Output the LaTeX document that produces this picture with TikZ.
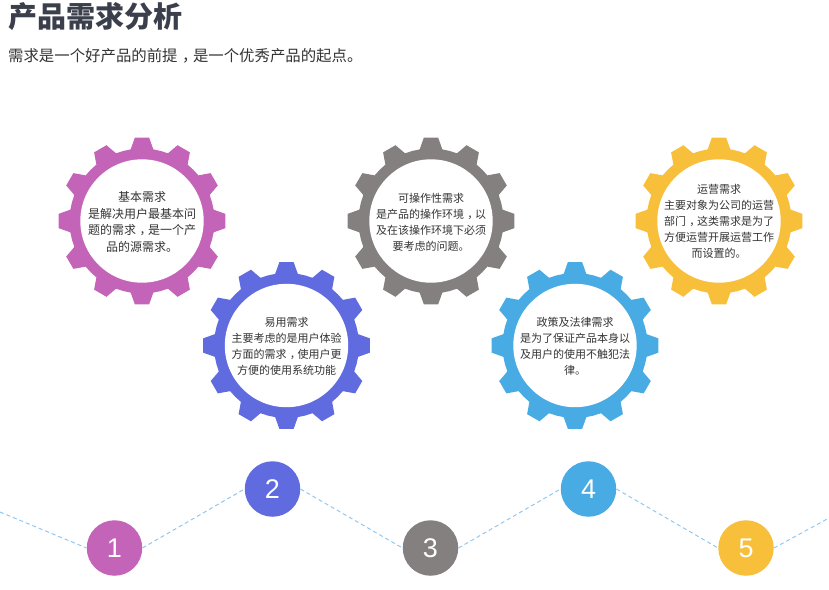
\documentclass[tikz,border=0pt]{standalone}
\usepackage{fontspec}
\setmainfont{Noto Sans CJK SC}
\newfontfamily\numfont{Liberation Sans}
\definecolor{cpurple}{HTML}{C464B8}
\definecolor{cblue}{HTML}{606BE0}
\definecolor{cgray}{HTML}{848080}
\definecolor{csky}{HTML}{48ABE3}
\definecolor{cyellow}{HTML}{F8BF3B}
\definecolor{cink}{HTML}{333333}
\definecolor{ctitle}{HTML}{3A3F4B}
\definecolor{cdash}{HTML}{8EC8F5}
\tikzset{
  geartext/.style={text=cink,align=center,inner sep=0pt,font=\fontsize{11}{16}\selectfont},
  geartextbig/.style={geartext,font=\fontsize{12}{16.4}\selectfont},
  numdot/.style={circle,minimum size=55.5pt,inner sep=0pt,text=white,font=\numfont\fontsize{27}{27}\selectfont},
  link/.style={cdash,dash pattern=on 4pt off 3pt,line width=1pt}
}
\newcommand{\zc}{\hbox to 1em{\hskip.3em ，\hss}}
\newcommand{\gearshape}[3]{%
  \begin{scope}[shift={(#1,#2)}]
    \fill[#3] (-9:72.5)
      \foreach \a in {0,30,...,330} {
        -- ({\a-9}:72.5) -- ({\a-4.9}:83.7) -- ({\a+4.9}:83.7) -- ({\a+9}:72.5) -- ({\a+15}:72.5)
      } -- cycle;
    \fill[white] (0,0) circle (61.7);
  \end{scope}}
\begin{document}
\begin{tikzpicture}[x=1pt,y=-1pt]
\useasboundingbox (0,0) rectangle (829,589);
\gearshape{142}{221}{cpurple}
\gearshape{431}{221}{cgray}
\gearshape{719}{221}{cyellow}
\gearshape{286.5}{345.5}{cblue}
\gearshape{575}{345.5}{csky}
\node[anchor=west,inner sep=0pt,text=ctitle,font=\fontsize{29}{29}\selectfont\bfseries] (title) at (8,17) {产品需求分析};
\node[anchor=west,inner sep=0pt,text=cink,font=\fontsize{15.4}{15.4}\selectfont] (sub) at (8,56) {需求是一个好产品的前提\zc 是一个优秀产品的起点。};
\node[geartextbig] (t1) at (142,222) {基本需求\\是解决用户最基本问\\题的需求\zc 是一个产\\品的源需求。};
\node[geartext] (t2) at (286.5,346) {易用需求\\主要考虑的是用户体验\\方面的需求\zc 使用户更\\方便的使用系统功能};
\node[geartext] (t3) at (431,222) {可操作性需求\\是产品的操作环境\zc 以\\及在该操作环境下必须\\要考虑的问题。};
\node[geartext] (t4) at (575,346) {政策及法律需求\\是为了保证产品本身以\\及用户的使用不触犯法\\律。};
\node[geartext] (t5) at (719,221) {运营需求\\主要对象为公司的运营\\部门\zc 这类需求是为了\\方便运营开展运营工作\\而设置的。};
\node[numdot,fill=cpurple] (n1) at (114.5,548) {1};
\node[numdot,fill=cblue] (n2) at (272.5,489) {2};
\node[numdot,fill=cgray] (n3) at (430.5,548) {3};
\node[numdot,fill=csky] (n4) at (588.5,489) {4};
\node[numdot,fill=cyellow] (n5) at (746,548) {5};
\coordinate (l0) at (0,512);
\coordinate (r0) at (829,518);
\draw[link] (l0) -- (n1.west);
\draw[link] (n1.east) -- (n2.west);
\draw[link] (n2.east) -- (n3.west);
\draw[link] (n3.east) -- (n4.west);
\draw[link] (n4.east) -- (n5.west);
\draw[link] (n5.east) -- (r0);
\end{tikzpicture}
\end{document}
